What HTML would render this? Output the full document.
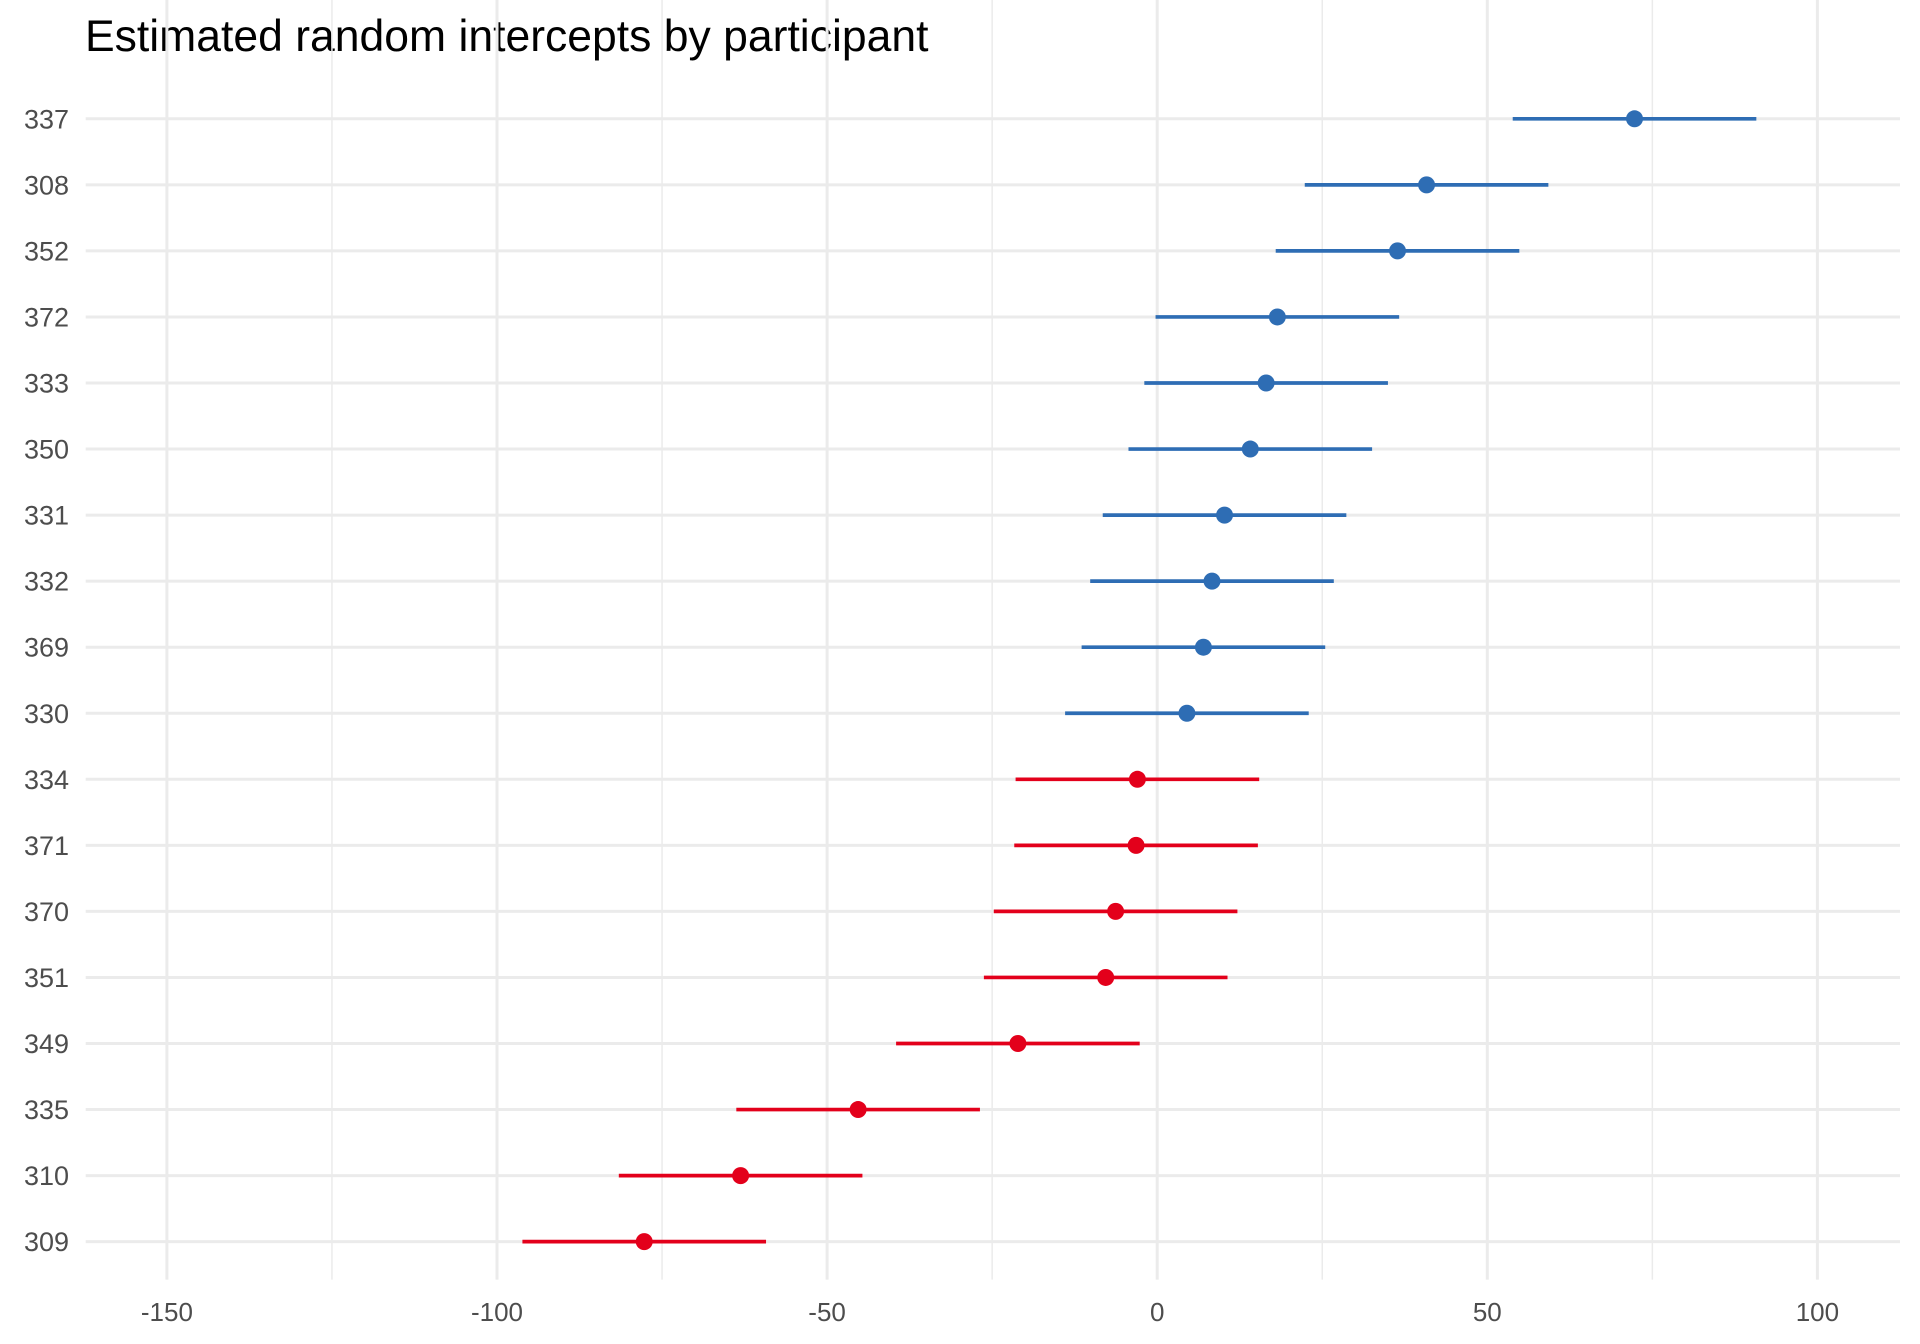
<!DOCTYPE html>
<html><head><meta charset="utf-8"><style>
html,body{margin:0;padding:0;background:#fff;}
svg{display:block;}
text{font-family:"Liberation Sans",Arial,sans-serif;}
</style></head><body>
<svg id="s" width="1920" height="1344" xmlns="http://www.w3.org/2000/svg">
<rect width="1920" height="1344" fill="#fff"/>
<text x="85" y="51" font-size="44.5" fill="#000">Estimated random intercepts by participant</text>
</svg>
<script>
var s=document.getElementById('s'),NS='http://www.w3.org/2000/svg';
function el(t,a,txt){var e=document.createElementNS(NS,t);for(var k in a)e.setAttribute(k,a[k]);if(txt!=null)e.textContent=txt;s.appendChild(e);return e;}
var X=function(v){return 1157.2+v*6.602;};
var top=79.6,bot=1279.6,left=85.7,right=1900;
for(var v=-125;v<=75;v+=50)el('line',{x1:X(v),x2:X(v),y1:top,y2:bot,stroke:'#EBEBEB','stroke-width':1.5});
for(var v=-150;v<=100;v+=50){el('line',{x1:X(v),x2:X(v),y1:top,y2:bot,stroke:'#EBEBEB','stroke-width':3});
el('text',{x:X(v),y:1321,'font-size':26,fill:'#4D4D4D','text-anchor':'middle'},String(v));}
var d=[[337,72.3],[308,40.8],[352,36.4],[372,18.2],[333,16.5],[350,14.1],[331,10.2],[332,8.3],[369,7.0],[330,4.5],[334,-3.0],[371,-3.2],[370,-6.3],[351,-7.8],[349,-21.1],[335,-45.3],[310,-63.1],[309,-77.7]];
d.forEach(function(r,i){var y=118.8+i*66.05;
el('line',{x1:left,x2:right,y1:y,y2:y,stroke:'#EBEBEB','stroke-width':3});
el('text',{x:69,y:y+9.5,'font-size':27,fill:'#4D4D4D','text-anchor':'end'},String(r[0]));});
d.forEach(function(r,i){var y=118.8+i*66.05;var c=r[1]>0?'#2E6DB4':'#E3001B';
el('line',{x1:X(r[1]-18.45),x2:X(r[1]+18.45),y1:y,y2:y,stroke:c,'stroke-width':3.7});
el('circle',{cx:X(r[1]),cy:y,r:8.5,fill:c});});
</script>
</body></html>
